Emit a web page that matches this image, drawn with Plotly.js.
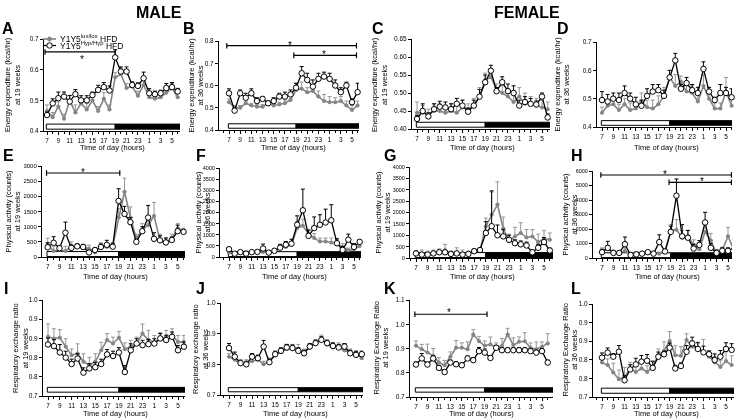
<!DOCTYPE html>
<html><head><meta charset="utf-8">
<script src="https://cdn.plot.ly/plotly-3.0.1.min.js"></script>
<style>html,body{margin:0;padding:0;background:#fff}#chart{width:739px;height:418px;filter:grayscale(100%)}</style>
</head><body><div id="chart"></div>
<script>
// ---------------- DATA ----------------
const hours = [7,8,9,10,11,12,13,14,15,16,17,18,19,20,21,22,23,0,1,2,3,4,5,6];
const tickHours = [7,9,11,13,15,17,19,21,23,1,3,5];
const lightStart = 7, darkStart = 19;

// A: energy expenditure, male, 19 weeks
const aGray = [0.465,0.445,0.48,0.44,0.50,0.46,0.49,0.47,0.50,0.465,0.505,0.47,0.575,0.585,0.54,0.545,0.515,0.55,0.51,0.505,0.51,0.525,0.54,0.51];
const aGrayErr = [0.02,0.015,0.015,0.015,0.015,0.025,0.015,0.02,0.015,0.015,0.02,0.015,0.015,0.02,0.015,0.015,0.015,0.02,0.015,0.01,0.01,0.01,0.015,0.015];
const aBlack = [0.452,0.49,0.507,0.512,0.496,0.52,0.50,0.50,0.517,0.534,0.543,0.532,0.64,0.594,0.594,0.55,0.547,0.572,0.523,0.52,0.523,0.54,0.543,0.529];
const aBlackErr = [0.01,0.015,0.02,0.015,0.02,0.015,0.015,0.015,0.01,0.015,0.015,0.015,0.025,0.015,0.015,0.01,0.01,0.02,0.015,0.01,0.01,0.015,0.015,0.01];
// B: energy expenditure, male, 36 weeks
const bGray = [0.525,0.50,0.50,0.52,0.51,0.505,0.505,0.52,0.51,0.515,0.52,0.535,0.58,0.585,0.57,0.575,0.55,0.53,0.525,0.525,0.53,0.51,0.49,0.51];
const bGrayErr = [0.015,0.01,0.01,0.01,0.01,0.01,0.01,0.01,0.01,0.01,0.015,0.015,0.03,0.03,0.02,0.02,0.025,0.03,0.025,0.02,0.02,0.02,0.02,0.02];
const bBlack = [0.565,0.487,0.565,0.545,0.565,0.53,0.54,0.52,0.53,0.55,0.55,0.56,0.59,0.655,0.625,0.595,0.63,0.64,0.63,0.60,0.57,0.60,0.525,0.57];
const bBlackErr = [0.02,0.01,0.015,0.02,0.02,0.015,0.01,0.01,0.015,0.015,0.02,0.02,0.02,0.03,0.03,0.03,0.025,0.02,0.025,0.025,0.02,0.015,0.015,0.04];
// C: energy expenditure, female, 19 weeks
const cGray = [0.445,0.445,0.44,0.45,0.45,0.445,0.45,0.445,0.46,0.455,0.465,0.49,0.535,0.545,0.51,0.50,0.49,0.475,0.49,0.47,0.47,0.465,0.46,0.455];
const cGrayErr = [0.03,0.02,0.015,0.02,0.02,0.02,0.02,0.025,0.02,0.015,0.02,0.025,0.02,0.015,0.015,0.02,0.02,0.025,0.025,0.03,0.02,0.02,0.02,0.02];
const cBlack = [0.428,0.45,0.435,0.455,0.462,0.46,0.455,0.47,0.465,0.448,0.465,0.49,0.53,0.562,0.505,0.53,0.505,0.50,0.465,0.475,0.47,0.468,0.49,0.432];
const cBlackErr = [0.01,0.02,0.01,0.015,0.015,0.015,0.015,0.015,0.015,0.01,0.015,0.02,0.02,0.015,0.01,0.015,0.02,0.02,0.015,0.015,0.015,0.01,0.01,0.01];
// D: energy expenditure, female, 36 weeks
const dGray = [0.45,0.475,0.48,0.46,0.48,0.46,0.465,0.49,0.47,0.465,0.48,0.51,0.575,0.545,0.56,0.525,0.52,0.49,0.545,0.50,0.465,0.465,0.525,0.475];
const dGrayErr = [0.02,0.02,0.02,0.02,0.02,0.025,0.02,0.03,0.025,0.03,0.03,0.03,0.025,0.04,0.02,0.02,0.025,0.025,0.04,0.02,0.02,0.02,0.05,0.04];
const dBlack = [0.495,0.49,0.50,0.495,0.52,0.50,0.48,0.475,0.51,0.525,0.53,0.51,0.575,0.635,0.535,0.555,0.53,0.52,0.605,0.525,0.495,0.52,0.52,0.505];
const dBlackErr = [0.03,0.025,0.02,0.025,0.025,0.02,0.025,0.02,0.025,0.025,0.02,0.02,0.025,0.025,0.015,0.02,0.02,0.02,0.025,0.015,0.01,0.03,0.02,0.03];
// E: physical activity, male, 19 weeks
const eGray = [420,200,230,200,350,330,320,270,150,350,330,350,1300,2150,1300,600,900,1050,1350,550,450,600,950,850];
const eGrayErr = [200,150,100,150,150,100,100,120,60,120,120,120,300,450,350,150,200,300,450,200,150,150,150,100];
const eBlack = [320,470,290,800,300,350,330,150,230,330,400,340,1850,1420,1150,500,850,1300,600,550,480,560,850,830];
const eBlackErr = [150,200,80,350,100,80,80,60,70,100,150,100,400,250,150,80,150,400,200,150,150,100,200,80];
// F: physical activity, male, 36 weeks
const fGray = [200,130,200,200,180,200,230,200,250,400,450,550,1300,1400,1050,850,700,700,650,600,450,300,350,500];
const fGrayErr = [50,40,60,60,50,60,80,60,80,100,150,150,300,300,200,200,150,150,200,200,150,100,100,100];
const fBlack = [350,150,220,150,220,230,380,200,280,420,550,600,1450,2100,950,1300,1450,1550,1650,620,320,780,450,680];
const fBlackErr = [60,50,60,50,60,60,200,60,80,150,150,200,400,950,250,500,450,600,700,200,150,250,150,100];
// G: physical activity, female, 19 weeks
const gGray = [200,200,200,250,300,350,200,250,200,200,300,350,1400,1900,2350,1300,750,950,1100,900,950,700,850,800];
const gGrayErr = [100,150,100,100,100,250,100,200,150,100,100,100,350,1000,1000,500,300,400,450,350,300,350,350,300];
const gBlack = [200,150,150,200,250,250,180,200,150,180,300,350,1100,1400,1000,950,800,650,600,550,250,450,700,330];
const gBlackErr = [100,60,60,60,80,80,60,80,60,60,80,100,500,1550,450,300,200,150,150,150,100,150,200,100];
// H: physical activity, female, 36 weeks
const hGray = [500,600,400,350,500,300,350,300,350,300,300,450,1900,1950,1400,1500,900,600,1800,1200,300,550,1500,600];
const hGrayErr = [200,250,150,150,200,100,100,100,100,100,100,150,400,700,500,400,350,200,600,500,100,200,600,200];
const hBlack = [400,700,350,350,950,200,250,300,400,300,1100,450,1800,4300,1500,1400,650,900,2450,700,350,500,500,700];
const hBlackErr = [200,450,100,100,500,100,100,100,100,100,500,150,400,1150,800,500,300,300,700,300,200,200,200,200];
// I: RER, male, 19 weeks
const iGray = [0.885,0.88,0.882,0.854,0.827,0.833,0.807,0.796,0.807,0.843,0.875,0.864,0.882,0.846,0.854,0.864,0.895,0.875,0.869,0.878,0.885,0.89,0.869,0.869];
const iGrayErr = [0.04,0.03,0.025,0.025,0.02,0.03,0.025,0.025,0.025,0.025,0.02,0.02,0.02,0.02,0.02,0.02,0.03,0.03,0.02,0.02,0.02,0.02,0.02,0.02];
const iBlack = [0.861,0.856,0.836,0.82,0.80,0.817,0.773,0.786,0.79,0.80,0.83,0.825,0.836,0.775,0.843,0.864,0.859,0.862,0.864,0.88,0.875,0.885,0.843,0.854];
const iBlackErr = [0.02,0.02,0.025,0.02,0.015,0.015,0.015,0.015,0.015,0.015,0.015,0.015,0.015,0.02,0.02,0.015,0.015,0.015,0.015,0.015,0.015,0.015,0.015,0.015];
// J: RER, male, 36 weeks
const jGray = [0.825,0.815,0.80,0.805,0.81,0.815,0.80,0.81,0.83,0.84,0.85,0.85,0.85,0.84,0.855,0.87,0.88,0.865,0.855,0.855,0.845,0.84,0.835,0.82];
const jGrayErr = [0.01,0.015,0.01,0.01,0.01,0.01,0.01,0.01,0.01,0.01,0.015,0.015,0.015,0.01,0.01,0.01,0.015,0.01,0.01,0.015,0.015,0.01,0.01,0.01];
const jBlack = [0.853,0.825,0.804,0.80,0.825,0.82,0.858,0.807,0.833,0.844,0.855,0.853,0.844,0.836,0.858,0.869,0.88,0.869,0.86,0.855,0.858,0.836,0.831,0.833];
const jBlackErr = [0.015,0.015,0.01,0.01,0.01,0.01,0.02,0.01,0.01,0.01,0.01,0.01,0.01,0.01,0.01,0.01,0.01,0.01,0.01,0.01,0.01,0.01,0.01,0.01];
// K: RER, female, 19 weeks
const kGray = [0.911,0.897,0.883,0.87,0.842,0.831,0.866,0.903,0.903,0.897,0.958,0.93,0.911,0.917,0.903,0.911,0.958,0.914,0.928,0.93,0.903,0.897,0.907,0.921];
const kGrayErr = [0.02,0.02,0.035,0.03,0.02,0.02,0.02,0.03,0.02,0.03,0.02,0.02,0.02,0.03,0.02,0.03,0.025,0.03,0.02,0.035,0.02,0.03,0.02,0.04];
const kBlack = [0.834,0.859,0.834,0.859,0.82,0.803,0.842,0.835,0.831,0.859,0.852,0.889,0.883,0.861,0.903,0.893,0.893,0.893,0.893,0.893,0.889,0.883,0.889,0.842];
const kBlackErr = [0.01,0.02,0.01,0.01,0.01,0.01,0.01,0.01,0.01,0.01,0.01,0.015,0.015,0.01,0.01,0.01,0.01,0.01,0.01,0.01,0.01,0.01,0.01,0.01];
// L: RER, female, 36 weeks
const lGray = [0.811,0.803,0.779,0.757,0.765,0.792,0.781,0.792,0.781,0.797,0.835,0.848,0.881,0.835,0.833,0.884,0.862,0.857,0.846,0.83,0.811,0.797,0.816,0.803];
const lGrayErr = [0.02,0.02,0.03,0.03,0.03,0.02,0.02,0.02,0.02,0.02,0.02,0.03,0.03,0.03,0.03,0.02,0.02,0.02,0.04,0.02,0.02,0.02,0.03,0.03];
const lBlack = [0.827,0.843,0.83,0.846,0.754,0.789,0.805,0.814,0.817,0.794,0.83,0.838,0.859,0.792,0.80,0.846,0.873,0.855,0.844,0.838,0.819,0.83,0.855,0.852];
const lBlackErr = [0.015,0.015,0.01,0.02,0.015,0.015,0.02,0.02,0.02,0.02,0.015,0.01,0.015,0.01,0.01,0.02,0.02,0.02,0.02,0.01,0.02,0.02,0.02,0.02];

// y tick values / labels
const eeTicksA = [0.4,0.5,0.6,0.7], eeTicksB = [0.4,0.5,0.6,0.7,0.8];
const eeTicksC = [0.40,0.45,0.50,0.55,0.60,0.65];
const paTicks3000 = [0,500,1000,1500,2000,2500,3000];
const paTicks4000 = [0,500,1000,1500,2000,2500,3000,3500,4000];
const paTicks6000 = [0,1000,2000,3000,4000,5000,6000];
const rerTicks6 = [0.7,0.76,0.82,0.88,0.94,1.0], rerTicks6Text = ['0.7','0.8','0.8','0.9','0.9','1.0'];
const rerTicks4 = [0.7,0.8,0.9,1.0], rerTicks5 = [0.7,0.8,0.9,1.0,1.1];

const legendNames = ['Y1Y5<sup>lox/lox</sup> HFD','Y1Y5<sup>Hyp/Hyp</sup> HFD'];

// ---------------- LAYOUT ----------------
const W = 739, H = 418;
const FONT = 'Liberation Sans, Arial, Helvetica, sans-serif';
const pos = hours.map((h, i) => i);
const tickPos = tickHours.map(h => hours.indexOf(h));
const darkIdx = hours.indexOf(darkStart), lightIdx = hours.indexOf(lightStart);

const fmt = (arr, d) => arr.map(v => v.toFixed(d));
const panels = [
  {L:'A', g:aGray, ge:aGrayErr, b:aBlack, be:aBlackErr, geo:[44,47,172,180,131,39], yr:[0.4,0.7], yt:eeTicksA, ytt:fmt(eeTicksA,1), yl:'Energy expenditure (kcal/hr)<br>at 19 weeks', tx:12, lx:8, ly:29, bar:[0.02,0.075], tf:6.5},
  {L:'B', g:bGray, ge:bGrayErr, b:bBlack, be:bBlackErr, geo:[219,229,352,359,130,41], yr:[0.4,0.8], yt:eeTicksB, ytt:fmt(eeTicksB,1), yl:'Energy expenditure (kcal/hr)<br>at 36 weeks', tx:196, lx:189, ly:29, bar:[0.02,0.07], tf:6.5},
  {L:'C', g:cGray, ge:cGrayErr, b:cBlack, be:cBlackErr, geo:[412,417,542,550,129,39], yr:[0.40,0.65], yt:eeTicksC, ytt:fmt(eeTicksC,2), yl:'Energy expenditure (kcal/hr)<br>at 19 weeks', tx:380, lx:378, ly:29, bar:[0.02,0.075], tf:6.5},
  {L:'D', g:dGray, ge:dGrayErr, b:dBlack, be:dBlackErr, geo:[597,602,726,732,127,42], yr:[0.4,0.7], yt:eeTicksA, ytt:fmt(eeTicksA,1), yl:'Energy expenditure (kcal/hr)<br>at 36 weeks', tx:562, lx:563, ly:29, bar:[0.02,0.075], tf:6.5},
  {L:'E', g:eGray, ge:eGrayErr, b:eBlack, be:eBlackErr, geo:[42,47.7,177.7,185,257,166], yr:[0,3000], yt:paTicks3000, ytt:fmt(paTicks3000,0), yl:'Physical activity (counts)<br>at 19 weeks', tx:13, lx:8, ly:155, bar:[0.005,0.06], tf:6},
  {L:'F', g:fGray, ge:fGrayErr, b:fBlack, be:fBlackErr, geo:[220,229,354,361,257,168], yr:[0,4000], yt:paTicks4000, ytt:fmt(paTicks4000,0), yl:'Physical activity (counts)<br>at 36 weeks', tx:203, lx:201, ly:155, bar:[0.005,0.06], tf:5.5},
  {L:'G', g:gGray, ge:gGrayErr, b:gBlack, be:gBlackErr, geo:[410,416,544,553,258,167], yr:[0,4000], yt:paTicks4000, ytt:fmt(paTicks4000,0), yl:'Physical activity (counts)<br>at 19 weeks', tx:383, lx:390, ly:155, bar:[0.005,0.06], tf:5.5},
  {L:'H', g:hGray, ge:hGrayErr, b:hBlack, be:hBlackErr, geo:[593,602,728,732,258,171], yr:[0,6000], yt:paTicks6000, ytt:fmt(paTicks6000,0), yl:'Physical activity (counts)<br>at 36 weeks', tx:570, lx:577, ly:155, bar:[0.005,0.06], tf:5.5},
  {L:'I', g:iGray, ge:iGrayErr, b:iBlack, be:iBlackErr, geo:[43,48,178,185,396,300], yr:[0.7,1.0], yt:rerTicks6, ytt:rerTicks6Text, yl:'Respiratory exchange ratio<br>at 19 weeks', tx:20, lx:6, ly:288, bar:[0.04,0.09], tf:6.5},
  {L:'J', g:jGray, ge:jGrayErr, b:jBlack, be:jBlackErr, geo:[221,229,356,363,395,303], yr:[0.7,1.0], yt:rerTicks4, ytt:fmt(rerTicks4,1), yl:'Respiratory exchange ratio<br>at 36 weeks', tx:200, lx:200, ly:288, bar:[0.035,0.08], tf:6.5},
  {L:'K', g:kGray, ge:kGrayErr, b:kBlack, be:kBlackErr, geo:[410,416,542,553,397,300], yr:[0.7,1.1], yt:rerTicks5, ytt:fmt(rerTicks5,1), yl:'Respiratory Exchange Ratio<br>at 19 weeks', tx:381, lx:390, ly:288, bar:[0.05,0.095], tf:6.5},
  {L:'L', g:lGray, ge:lGrayErr, b:lBlack, be:lBlackErr, geo:[593,602,726,734,397,304], yr:[0.7,1.0], yt:rerTicks6, ytt:rerTicks6Text, yl:'Respiratory Exchange Ratio<br>at 36 weeks', tx:570, lx:576, ly:288, bar:[0.04,0.095], tf:6.5},
];
const xTitleY = [147.5, 276, 413];

// significance brackets: [panel, fromIdx, toIdx, yDomainFrac, starIdx, star px offset (+ below / - above)]
const brackets = [
  ['A', -0.35, 12, 0.859, 6.2, 5],
  ['B', -0.4, 22.8, 0.947, 10.9, -3],
  ['B', 11.6, 22.8, 0.839, 17, -3],
  ['E', -0.2, 12.2, 0.923, 6, -3],
  ['H', -0.2, 22.6, 0.954, 11, -3],
  ['H', 11.7, 22.6, 0.87, 17.4, -3],
  ['K', -0.2, 12.4, 0.853, 5.8, -4],
];

const GRAY = '#858585', GRAYERR = '#969696';
const traces = [], shapes = [], annotations = [];
const layout = {
  width: W, height: H, margin: {l:0, r:0, t:0, b:0},
  paper_bgcolor: '#fff', plot_bgcolor: 'rgba(0,0,0,0)',
  showlegend: false, font: {family: FONT, color: '#000', size: 7},
};
const refs = {};

panels.forEach((p, i) => {
  const k = i + 1;
  const xa = k === 1 ? 'xaxis' : 'xaxis' + k, ya = k === 1 ? 'yaxis' : 'yaxis' + k;
  const xr = k === 1 ? 'x' : 'x' + k, yr = k === 1 ? 'y' : 'y' + k;
  const [ax, p0, p22, re, yb, yt] = p.geo;
  const s = (p22 - p0) / 22;
  const rmin = -(p0 - ax) / s, rmax = (re - p0) / s;
  refs[p.L] = {xr, yr, yb, yt, ax, re, p0, s, rmax};
  layout[xa] = {
    domain: [ax / W, re / W], range: [rmin, rmax], anchor: yr,
    tickmode: 'array', tickvals: tickPos, ticktext: tickHours.map(String),
    ticks: 'outside', ticklen: 3, tickwidth: 1, tickcolor: '#000',
    showline: true, linecolor: '#000', linewidth: 1, showgrid: false, zeroline: false,
    tickfont: {family: FONT, size: 6.5, color: '#000'},
    minor: {ticks: 'outside', ticklen: 2, tickwidth: 1, tickcolor: '#000', dtick: 1, tick0: 0, showgrid: false},
    fixedrange: true,
  };
  layout[ya] = {
    domain: [1 - yb / H, 1 - yt / H], range: p.yr, anchor: xr,
    tickmode: 'array', tickvals: p.yt, ticktext: p.ytt,
    ticks: 'outside', ticklen: 3, tickwidth: 1, tickcolor: '#000',
    showline: true, linecolor: '#000', linewidth: 1, showgrid: false, zeroline: false,
    tickfont: {family: FONT, size: p.tf, color: '#000'}, fixedrange: true,
  };
  traces.push({
    x: pos, y: p.g, xaxis: xr, yaxis: yr, type: 'scatter', mode: 'lines+markers',
    line: {color: GRAY, width: 1.6}, marker: {color: GRAY, size: 4},
    error_y: {type: 'data', symmetric: false, array: p.ge, arrayminus: p.ge.map(() => 0), color: GRAYERR, thickness: 1, width: 2},
    hoverinfo: 'skip', cliponaxis: false,
  });
  traces.push({
    x: pos, y: p.b, xaxis: xr, yaxis: yr, type: 'scatter', mode: 'lines+markers',
    line: {color: '#000', width: 1.3}, marker: {color: '#fff', size: 5.5, line: {color: '#000', width: 1}},
    error_y: {type: 'data', symmetric: false, array: p.be, arrayminus: p.be.map(() => 0), color: '#000', thickness: 1, width: 2},
    hoverinfo: 'skip', cliponaxis: false,
  });
  // light / dark bar
  shapes.push({type: 'rect', xref: xr, yref: yr + ' domain', x0: lightIdx - 0.12, x1: darkIdx, y0: p.bar[0], y1: p.bar[1], fillcolor: '#fff', line: {color: '#000', width: 1}, layer: 'below'});
  shapes.push({type: 'rect', xref: xr, yref: yr + ' domain', x0: darkIdx, x1: rmax, y0: p.bar[0], y1: p.bar[1], fillcolor: '#000', line: {color: '#000', width: 1}, layer: 'below'});
  // y title
  annotations.push({text: p.yl, xref: 'paper', yref: 'paper', x: p.tx / W, y: 1 - (yb + yt) / 2 / H,
    xanchor: 'center', yanchor: 'middle', textangle: -90, showarrow: false, align: 'center',
    font: {family: FONT, size: 7.5, color: '#000'}});
  // x title
  annotations.push({text: 'Time of day (hours)', xref: 'paper', yref: 'paper', x: (p0 + 11.5 * s) / W,
    y: 1 - xTitleY[Math.floor(i / 4)] / H, xanchor: 'center', yanchor: 'middle', showarrow: false,
    font: {family: FONT, size: 7.5, color: '#000'}});
  // panel letter
  annotations.push({text: '<b>' + p.L + '</b>', xref: 'paper', yref: 'paper', x: p.lx / W, y: 1 - p.ly / H,
    xanchor: 'center', yanchor: 'middle', showarrow: false, font: {family: FONT, size: 16, color: '#000'}});
});

brackets.forEach(([L, a, b, yf, sx, so]) => {
  const r = refs[L];
  const ypx = r.yb - yf * (r.yb - r.yt);
  const cap = 2.8 / (r.yb - r.yt);
  shapes.push({type: 'line', xref: r.xr, yref: r.yr + ' domain', x0: a, x1: b, y0: yf, y1: yf, line: {color: '#000', width: 1.2}});
  shapes.push({type: 'line', xref: r.xr, yref: r.yr + ' domain', x0: a, x1: a, y0: yf - cap, y1: yf + cap, line: {color: '#000', width: 1.2}});
  shapes.push({type: 'line', xref: r.xr, yref: r.yr + ' domain', x0: b, x1: b, y0: yf - cap, y1: yf + cap, line: {color: '#000', width: 1.2}});
  annotations.push({text: '*', xref: r.xr, yref: 'paper', x: sx, y: 1 - (ypx + so + 2.5) / H,
    xanchor: 'center', yanchor: 'middle', showarrow: false, font: {family: FONT, size: 10, color: '#000'}});
});

// group titles
annotations.push({text: '<b>MALE</b>', xref: 'paper', yref: 'paper', x: 159 / W, y: 1 - 13 / H, xanchor: 'center', yanchor: 'middle', showarrow: false, font: {family: FONT, size: 16, color: '#000'}});
annotations.push({text: '<b>FEMALE</b>', xref: 'paper', yref: 'paper', x: 527 / W, y: 1 - 13 / H, xanchor: 'center', yanchor: 'middle', showarrow: false, font: {family: FONT, size: 16, color: '#000'}});

// legend (panel A, drawn manually)
const legY = [39, 45.5];
legY.forEach((ly, j) => {
  const col = j === 0 ? GRAY : '#000';
  shapes.push({type: 'line', xref: 'paper', yref: 'paper', x0: 43 / W, x1: 56 / W, y0: 1 - ly / H, y1: 1 - ly / H, line: {color: col, width: j === 0 ? 1.6 : 1.3}});
  shapes.push({type: 'circle', xref: 'paper', yref: 'paper', xsizemode: 'pixel', ysizemode: 'pixel',
    xanchor: 49.5 / W, yanchor: 1 - ly / H, x0: j === 0 ? -2 : -2.7, x1: j === 0 ? 2 : 2.7, y0: j === 0 ? -2 : -2.7, y1: j === 0 ? 2 : 2.7,
    fillcolor: j === 0 ? GRAY : '#fff', line: {color: col, width: 1}});
  annotations.push({text: legendNames[j], xref: 'paper', yref: 'paper', x: 58 / W, y: 1 - ly / H, xanchor: 'left', yanchor: 'middle',
    showarrow: false, font: {family: FONT, size: 8.5, color: '#000'}});
});

layout.shapes = shapes;
layout.annotations = annotations;
Plotly.newPlot('chart', traces, layout, {staticPlot: true, displayModeBar: false});
</script>
</body></html>
